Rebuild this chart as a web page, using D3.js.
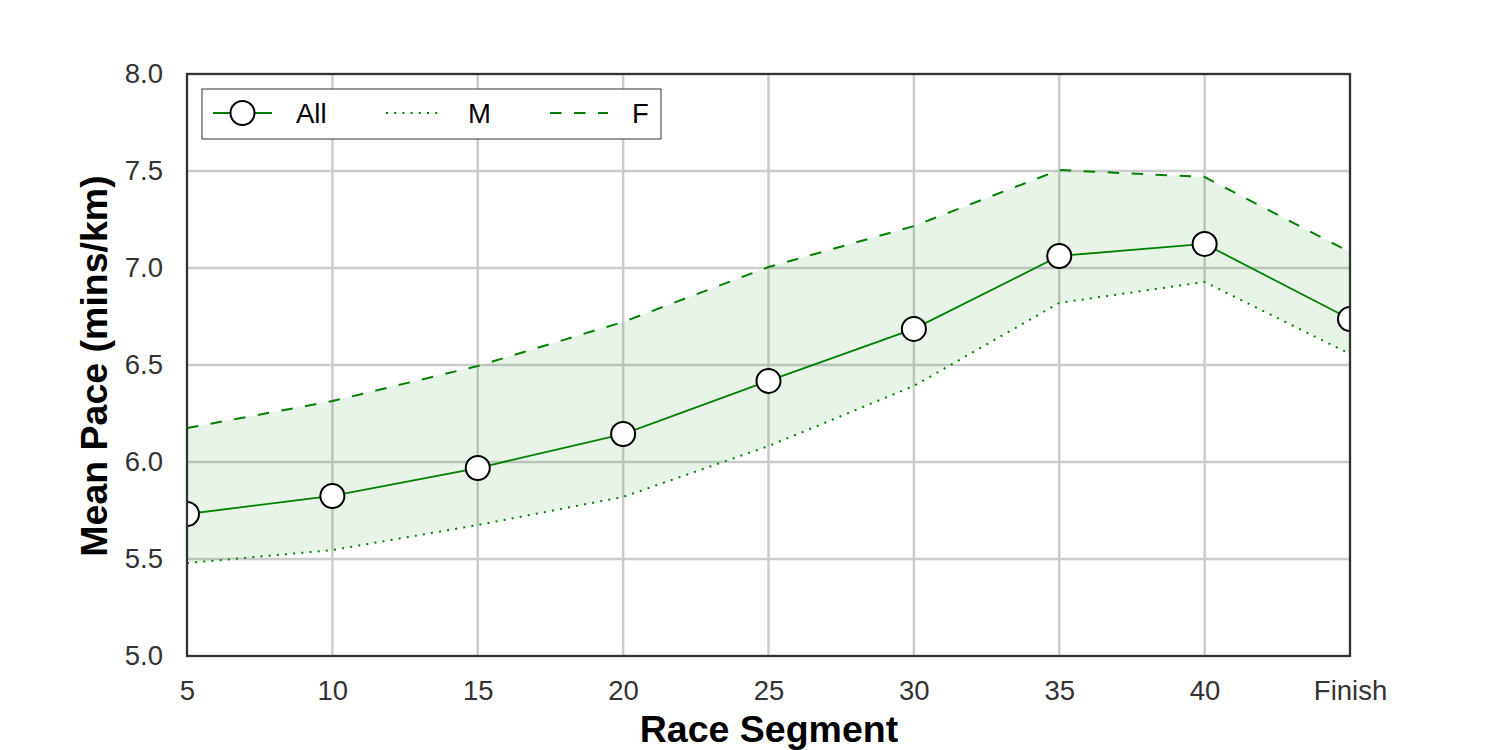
<!DOCTYPE html>
<html><head><meta charset="utf-8">
<script src="https://cdn.jsdelivr.net/npm/d3@7"></script>
<style>body{margin:0;background:#fff;} svg{display:block;}</style>
</head><body>
<svg id="chart" width="1500" height="750"></svg>
<script>
const categories = ["5","10","15","20","25","30","35","40","Finish"];
const allPace = [5.732, 5.825, 5.969, 6.144, 6.418, 6.686, 7.062, 7.124, 6.737];
const malePace = [5.479, 5.546, 5.675, 5.820, 6.082, 6.392, 6.820, 6.928, 6.557];
const femalePace = [6.175, 6.314, 6.495, 6.722, 7.005, 7.216, 7.505, 7.469, 7.082];
const yTicks = [5.0, 5.5, 6.0, 6.5, 7.0, 7.5, 8.0];

const svg = d3.select("#chart");
const m = {left:187, right:1350, top:74, bottom:656};
const x = d3.scalePoint().domain(categories).range([m.left, m.right]);
const y = d3.scaleLinear().domain([5, 8]).range([m.bottom, m.top]);
const green = "#008000";
const font = "Liberation Sans, Arial, sans-serif";
const dashF = "11.5,12.5";
const dashM = "2,6.2";

// grid
const g = svg.append("g");
g.selectAll(".vg").data(categories).enter().append("line")
  .attr("x1", d=>x(d)).attr("x2", d=>x(d)).attr("y1", m.top).attr("y2", m.bottom)
  .attr("stroke", "#cccccc").attr("stroke-width", 2.5);
g.selectAll(".hg").data(yTicks).enter().append("line")
  .attr("x1", m.left).attr("x2", m.right).attr("y1", d=>y(d)).attr("y2", d=>y(d))
  .attr("stroke", "#cccccc").attr("stroke-width", 2.5);

const idx = d3.range(categories.length);
// fill between
svg.append("path").datum(idx)
  .attr("d", d3.area().x(i=>x(categories[i])).y0(i=>y(malePace[i])).y1(i=>y(femalePace[i])))
  .attr("fill", green).attr("fill-opacity", 0.09);

const line = arr => d3.line().x(i=>x(categories[i])).y(i=>y(arr[i]))(idx);
svg.append("path").attr("d", line(femalePace)).attr("fill","none").attr("stroke",green)
  .attr("stroke-width",2).attr("stroke-dasharray",dashF);
svg.append("path").attr("d", line(malePace)).attr("fill","none").attr("stroke",green)
  .attr("stroke-width",2).attr("stroke-dasharray",dashM);
svg.append("path").attr("d", line(allPace)).attr("fill","none").attr("stroke",green)
  .attr("stroke-width",1.8);

// clip markers to plot area
svg.append("clipPath").attr("id","clip").append("rect")
  .attr("x", m.left).attr("y", m.top).attr("width", m.right-m.left).attr("height", m.bottom-m.top);
svg.append("g").attr("clip-path","url(#clip)").selectAll("circle").data(idx).enter().append("circle")
  .attr("cx", i=>x(categories[i])).attr("cy", i=>y(allPace[i])).attr("r", 12)
  .attr("fill","#fff").attr("stroke","#000").attr("stroke-width",2);

// frame
svg.append("rect").attr("x", m.left).attr("y", m.top).attr("width", m.right-m.left)
  .attr("height", m.bottom-m.top).attr("fill","none").attr("stroke","#333").attr("stroke-width",2.2);

// axes
const xAxis = svg.append("g").attr("transform", `translate(0,${m.bottom})`)
  .call(d3.axisBottom(x).tickSize(0).tickPadding(24));
xAxis.select(".domain").remove();
xAxis.selectAll("text").attr("font-family", font).attr("font-size", 27.5).attr("fill","#333");

const yAxis = svg.append("g").attr("transform", `translate(${m.left},0)`)
  .call(d3.axisLeft(y).tickValues(yTicks).tickFormat(d3.format(".1f")).tickSize(0).tickPadding(24));
yAxis.select(".domain").remove();
yAxis.selectAll("text").attr("font-family", font).attr("font-size", 27.5).attr("fill","#333");

svg.append("text").attr("x", (m.left+m.right)/2 + 0.5).attr("y", 742).attr("text-anchor","middle")
  .attr("font-family", font).attr("font-size", 37.5).attr("font-weight","bold").attr("fill","#000")
  .text("Race Segment");
svg.append("text").attr("transform", `translate(107,${(m.top+m.bottom)/2 + 1}) rotate(-90)`)
  .attr("text-anchor","middle").attr("font-family", font).attr("font-size", 37.5)
  .attr("font-weight","bold").attr("fill","#000").text("Mean Pace (mins/km)");

// legend
const lg = svg.append("g");
lg.append("rect").attr("x",202).attr("y",89).attr("width",459).attr("height",50)
  .attr("fill","#fff").attr("stroke","#333").attr("stroke-width",1);
const ly = 113;
const legendItems = [
  {label:"All", x1:213, x2:272, tx:296, dash:null, marker:true},
  {label:"M", x1:386, x2:440, tx:468, dash:dashM, marker:false},
  {label:"F", x1:550, x2:608, tx:632, dash:dashF, marker:false}
];
legendItems.forEach(it=>{
  const l = lg.append("line").attr("x1",it.x1).attr("x2",it.x2).attr("y1",ly).attr("y2",ly)
    .attr("stroke",green).attr("stroke-width",2);
  if (it.dash) l.attr("stroke-dasharray", it.dash);
  if (it.marker) lg.append("circle").attr("cx",(it.x1+it.x2)/2).attr("cy",ly).attr("r",12)
    .attr("fill","#fff").attr("stroke","#000").attr("stroke-width",2);
  lg.append("text").attr("x",it.tx).attr("y",ly+10).attr("font-family",font).attr("font-size",27.5)
    .attr("fill","#000").text(it.label);
});
</script>
</body></html>
